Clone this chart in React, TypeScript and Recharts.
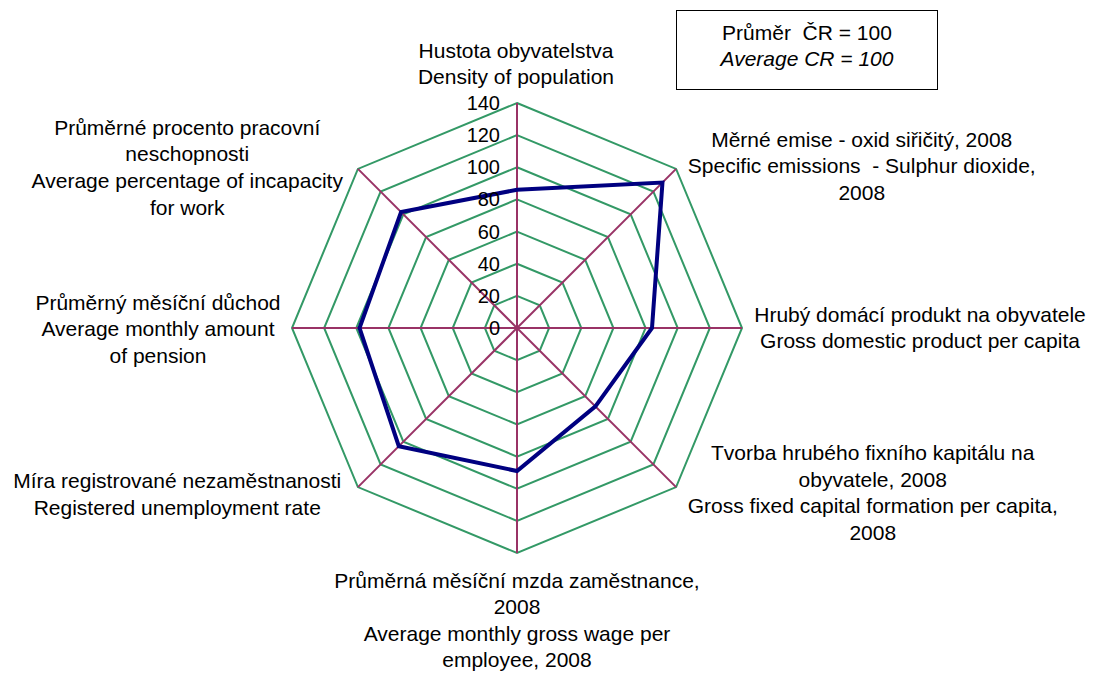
import { PolarAngleAxis, PolarGrid, PolarRadiusAxis, Radar, RadarChart } from "recharts";

const GREEN = "#339966";
const PURPLE = "#993366";
const NAVY = "#000080";
const FONT = "'Liberation Sans', Arial, sans-serif";

const categories = [
  ["Hustota obyvatelstva", "Density of population"],
  ["Měrné emise - oxid siřičitý, 2008", "Specific emissions  - Sulphur dioxide,", "2008"],
  ["Hrubý domácí produkt na obyvatele", "Gross domestic product per capita"],
  ["Tvorba hrubého fixního kapitálu na", "obyvatele, 2008", "Gross fixed capital formation per capita,", "2008"],
  ["Průměrná měsíční mzda zaměstnance,", "2008", "Average monthly gross wage per", "employee, 2008"],
  ["Míra registrované nezaměstnanosti", "Registered unemployment rate"],
  ["Průměrný měsíční důchod", "Average monthly amount", "of pension"],
  ["Průměrné procento pracovní", "neschopnosti", "Average percentage of incapacity", "for work"],
];
const values = [86, 128, 84, 69, 89, 104, 98, 102];
const radiusTicks = [0, 20, 40, 60, 80, 100, 120, 140];

const data = categories.map((lines, i) => ({ key: i, label: lines.join(" "), value: values[i] }));

// label block offsets from the tick point: [dx, dy of first line]
const LABEL_OFFSET: [number, number][] = [
  [-1, -45],
  [180, -24],
  [170, -14],
  [191, -40],
  [0, 19],
  [-175, -12],
  [-126, -26],
  [-165, -36],
];
const LINE_H = 26.6;

function AngleTick(props: any) {
  const { x, y, payload } = props;
  const i = Number(payload.value);
  const lines = categories[i];
  const [dx, dy] = LABEL_OFFSET[i];
  return (
    <text
      x={x + dx}
      y={y + dy}
      textAnchor="middle"
      fill="#000"
      fontSize={21}
      fontFamily={FONT}
      style={{ whiteSpace: "pre" }}
    >
      {lines.map((line, j) => (
        <tspan key={j} x={x + dx} y={y + dy + j * LINE_H} dominantBaseline="central">
          {line}
        </tspan>
      ))}
    </text>
  );
}

function RadiusTick(props: any) {
  const { x, y, payload } = props;
  return (
    <text x={x - 17} y={y} textAnchor="end" dominantBaseline="central" fill="#000" fontSize={20} fontFamily={FONT}>
      {payload.value}
    </text>
  );
}

export default function App() {
  return (
    <div style={{ position: "absolute", left: 0, top: 0, width: 1093, height: 674, background: "#fff" }}>
      <RadarChart width={1093} height={674} data={data} cx={517} cy={328} outerRadius={225} margin={{ top: 0, right: 0, bottom: 0, left: 0 }}>
        <PolarGrid gridType="polygon" radialLines={false} stroke={GREEN} strokeWidth={2} strokeOpacity={1} />
        <PolarGrid gridType="polygon" polarRadius={[]} stroke={PURPLE} strokeWidth={2} strokeOpacity={1} />
        <PolarAngleAxis dataKey="key" tick={<AngleTick />} tickLine={false} axisLine={false} />
        <PolarRadiusAxis
          angle={90}
          domain={[0, 140]}
          ticks={radiusTicks}
          tickCount={8}
          axisLine={false}
          tickLine={false}
          tick={<RadiusTick />}
        />
        <Radar dataKey="value" stroke={NAVY} strokeWidth={4} fill="none" fillOpacity={0} isAnimationActive={false} dot={false} />
      </RadarChart>
      <div
        style={{
          position: "absolute",
          left: 676,
          top: 10,
          width: 260,
          height: 69,
          border: "1px solid #000",
          fontFamily: FONT,
          fontSize: 21,
          textAlign: "center",
          lineHeight: "26px",
          paddingTop: 9,
          boxSizing: "content-box",
        }}
      >
        <div>Průměr&nbsp; ČR = 100</div>
        <div style={{ fontStyle: "italic" }}>Average CR = 100</div>
      </div>
    </div>
  );
}
